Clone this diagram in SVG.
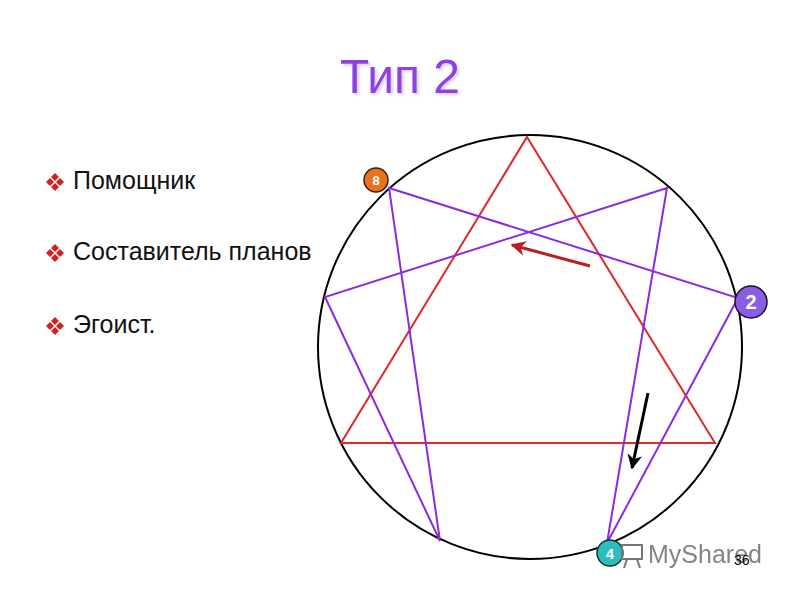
<svg xmlns="http://www.w3.org/2000/svg" width="800" height="600" viewBox="0 0 800 600">
<defs>
<style>
.t{font-family:"Liberation Sans",Arial,sans-serif;}
.item{font-size:25px;fill:#111;}
.red{stroke:#e02828;stroke-width:2;fill:none;}
.pur{stroke:#8a2be2;stroke-width:2;fill:none;}
.bt{fill:#d42020;}
.badge{font-family:"Liberation Sans",Arial,sans-serif;font-weight:bold;fill:#fff;text-anchor:middle;}
</style>
<marker id="ahR" viewBox="0 0 10 10" refX="9" refY="5" markerWidth="5" markerHeight="5" orient="auto"><path d="M0,0 L10,5 L0,10 L3,5 z" fill="#b82020"/></marker>
<marker id="ahK" viewBox="0 0 10 10" refX="9" refY="5" markerWidth="5" markerHeight="5" orient="auto"><path d="M0,0 L10,5 L0,10 L3,5 z" fill="#000"/></marker>
<g id="bul"><path d="M0,-9 l4,4 -4,4 -4,-4z M0,1 l4,4 -4,4 -4,-4z M-5,-4 l4,4 -4,4 -4,-4z M5,-4 l4,4 -4,4 -4,-4z" class="bt"/></g>
<filter id="sh" x="-10%" y="-10%" width="130%" height="130%"><feGaussianBlur in="SourceAlpha" stdDeviation="1.5"/><feOffset dx="2" dy="2" result="b"/><feFlood flood-color="#c8b8e8" flood-opacity="0.7"/><feComposite in2="b" operator="in"/><feMerge><feMergeNode/><feMergeNode in="SourceGraphic"/></feMerge></filter>
</defs>
<rect width="800" height="600" fill="#fff"/>
<g id="title"><text x="400" y="93" class="t" font-size="48" text-anchor="middle" fill="#9040e0" filter="url(#sh)">Тип 2</text></g>
<g id="list">
<use href="#bul" x="55" y="182"/><text x="73" y="189" class="t item">Помощник</text>
<use href="#bul" x="55" y="253"/><text x="73" y="260" class="t item">Составитель планов</text>
<use href="#bul" x="55" y="326"/><text x="73" y="333" class="t item">Эгоист.</text>
</g>
<g id="circle"><circle cx="530" cy="347" r="212" fill="none" stroke="#000" stroke-width="2"/></g>
<g id="connectors">
<polygon class="red" points="527,137 715,443 341,443"/>
<polygon class="pur" points="667,188 607,543 738,298 389,188 440,541 325,297"/>
<line x1="590" y1="266" x2="512" y2="245" stroke="#b82020" stroke-width="3" marker-end="url(#ahR)"/>
<line x1="648" y1="393" x2="632" y2="468" stroke="#000" stroke-width="3" marker-end="url(#ahK)"/>
</g>
<g id="node8"><circle cx="376" cy="180" r="12" fill="#e8731e" stroke="#3a1a0a" stroke-width="1.5"/><text x="376" y="185" class="badge" font-size="13">8</text></g>
<g id="node2"><circle cx="751" cy="302" r="16" fill="#8a5ee0" stroke="#1a0a3a" stroke-width="1.5"/><text x="751" y="309" class="badge" font-size="20">2</text></g>
<g id="node4"><circle cx="610" cy="553" r="13" fill="#2fbcbc" stroke="#0a3a3a" stroke-width="1.5"/><text x="610" y="559" class="badge" font-size="15">4</text></g>
<g id="watermark"><rect x="622" y="545" width="20" height="14" fill="none" stroke="#777" stroke-width="2"/><line x1="627" y1="559" x2="624" y2="568" stroke="#777" stroke-width="2"/><line x1="637" y1="559" x2="640" y2="568" stroke="#777" stroke-width="2"/><text x="648" y="563" class="t" font-size="25" fill="#666" opacity="0.8">MyShared</text></g>
<text x="734" y="565" class="t" font-size="14" fill="#000">36</text>
</svg>
